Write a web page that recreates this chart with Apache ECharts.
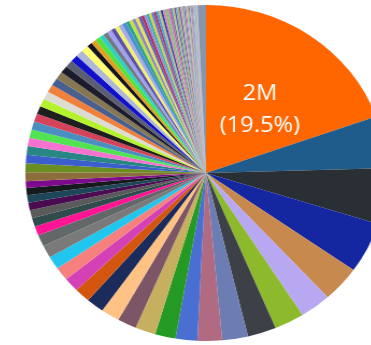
<!DOCTYPE html>
<html>
<head>
<meta charset="utf-8">
<script src="https://cdn.jsdelivr.net/npm/echarts@6/dist/echarts.min.js"></script>
<style>
html, body { margin: 0; padding: 0; overflow: hidden; background: #fff; width: 371px; height: 345px; }
#chart { width: 371px; height: 345px; transform: scaleX(1.075); transform-origin: 206px 0; }
</style>
</head>
<body>
<div id="chart"></div>
<script>
// values in thousands (in drawing order, clockwise from 12 o'clock)
const values = [
  2000, 513, 547, 501, 353, 285, 274, 262, 236, 225,
  199, 188, 187, 174, 171, 162, 145, 139, 133, 127,
  122, 116, 90, 84, 78, 76, 73, 70, 67, 87,
  86, 84, 84, 83, 81, 81, 80, 79, 78, 78,
  76, 76, 73, 73, 70, 70, 67, 67, 47, 47,
  44, 44, 42, 41, 39, 39, 36, 36, 33, 32,
  30, 29, 27, 26, 24, 24, 23, 23, 22, 22,
  20, 20, 19, 19, 17, 17, 16, 16, 15, 14,
  15, 15, 14, 14, 12, 12, 11, 11, 9, 9,
  10, 10, 9, 8, 7, 7, 6, 6, 77
];
const colors = [
  '#ff6600','#1f5b8b','#2a2e35','#1426a0','#c8894e','#b8a8f2','#8cba2c','#3e4048','#6b7db3','#b06b82',
  '#4a6fd2','#249a24','#c6af5e','#7c5566','#ffc285','#1b2b5b','#d4560e','#d440b6','#f5807e','#20c6ee',
  '#7a7a7a','#62686a','#ff1493','#2f4b4b','#5a5a5a','#4b0b50','#1d4658','#161a1c','#7d0b8c','#8b6e3c',
  '#6b8e23','#3a5fcd','#2a8585','#f472d0','#52e352','#4a8fc0','#d4435a','#1e1e1e','#b4f22c','#dcdcd0',
  '#f0803c','#4a5f8e','#857752','#1c1c2c','#5a5e70','#1010cc','#b0b8d6','#ffff70','#121222','#e0a020',
  '#4ee438','#2fd0c0','#747884','#a0a0f0','#5a50a8','#f0f070','#a8a8e8','#4a90d0','#30a090','#c0e040',
  '#8888c0','#e8e060','#6060b0','#b03060','#9090e0','#40b0a0','#d0d050','#7070c0','#a04070','#50a0d0',
  '#c0c080','#3040a0','#e080c0','#80c060','#a0a0c0','#d06090','#6080b0','#b0d080','#8050a0','#60b0c0',
  '#c0a070','#5070a0','#e0a0c0','#90b090','#7080c0','#c08090','#a0c0e0','#b0b060','#6070a0','#d0a0d0',
  '#80a0a0','#a080b0','#90b0d0','#c0c0a0','#8090b0','#b0a0c0','#a0b0c0','#c0b0b0','#8796ad'
];
const categories = values.map((_, i) => 'Item ' + (i + 1));

const data = values.map((v, i) => ({
  name: categories[i],
  value: v,
  itemStyle: { color: colors[i] },
  label: { show: i === 0 }
}));

const chart = echarts.init(document.getElementById('chart'), null, { renderer: 'canvas' });
chart.setOption({
  animation: false,
  series: [{
    type: 'pie',
    center: [206, 173],
    radius: [0, 168],
    startAngle: 90,
    clockwise: true,
    percentPrecision: 1,
    avoidLabelOverlap: false,
    itemStyle: { borderWidth: 0 },
    label: {
      position: 'inside',
      color: '#ffffff',
      fontFamily: 'Open Sans',
      fontSize: 22,
      lineHeight: 32,
      formatter: p => (p.value / 1000) + 'M\n(' + p.percent + '%)'
    },
    labelLine: { show: false },
    labelLayout: { dy: 8 },
    emphasis: { disabled: true },
    data: data
  }]
});
</script>
</body>
</html>
